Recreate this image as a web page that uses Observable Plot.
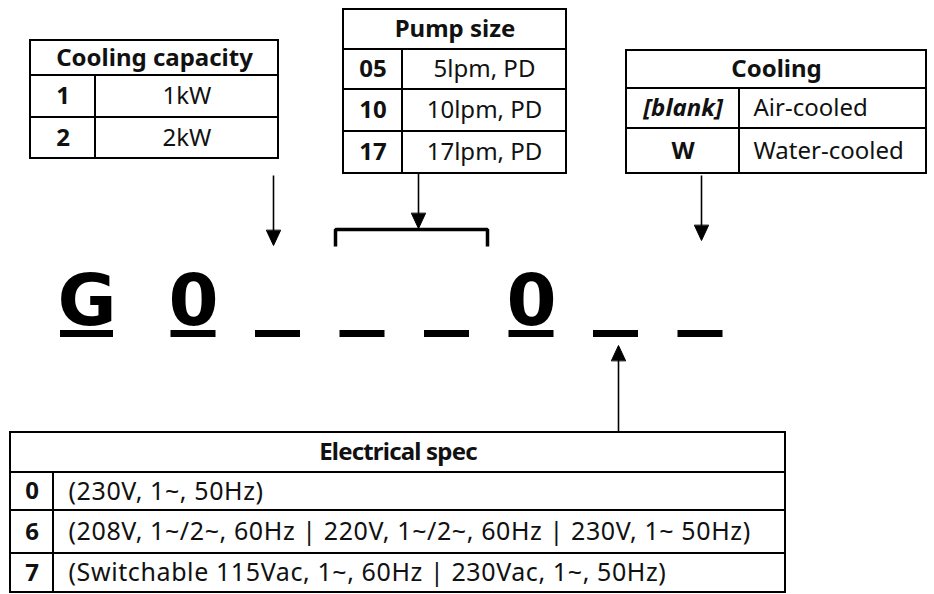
<!DOCTYPE html>
<html><head><meta charset="utf-8">
<script src="https://cdn.jsdelivr.net/npm/d3@7"></script>
<script src="https://cdn.jsdelivr.net/npm/@observablehq/plot@0.6"></script>
<style>
body{margin:0;background:#fff}
#chart svg{display:block}
.elec-label text{letter-spacing:0.6px}
.elec-title text{letter-spacing:-0.8px}
</style>
</head><body><div id="chart"></div>
<script>
// ---------- DATA ----------
const codeChars = ["G", "0", "_", "_", "_", "0", "_", "_"];

const capacityTitle = "Cooling capacity";
const capacityCodes = ["1", "2"];
const capacityLabels = ["1kW", "2kW"];

const pumpTitle = "Pump size";
const pumpCodes = ["05", "10", "17"];
const pumpLabels = ["5lpm, PD", "10lpm, PD", "17lpm, PD"];

const coolingTitle = "Cooling";
const coolingCodes = ["[blank]", "W"];
const coolingLabels = ["Air-cooled", "Water-cooled"];

const electricalTitle = "Electrical spec";
const electricalCodes = ["0", "6", "7"];
const electricalLabels = [
  "(230V, 1~, 50Hz)",
  "(208V, 1~/2~, 60Hz | 220V, 1~/2~, 60Hz | 230V, 1~ 50Hz)",
  "(Switchable 115Vac, 1~, 60Hz | 230Vac, 1~, 50Hz)"
];

// ---------- LAYOUT ----------
const W = 934, H = 594;
const FONT = "Noto Sans";
const FS = 24;

const tableLayouts = [
  {id: "cap", title: capacityTitle, codes: capacityCodes, labels: capacityLabels, x0: 30, x1: 278, div: 95, ys: [40, 75, 117, 158], align: "middle"},
  {id: "pump", title: pumpTitle, codes: pumpCodes, labels: pumpLabels, x0: 343, x1: 566, div: 402, ys: [9, 49, 89, 131, 173], align: "middle"},
  {id: "cool", title: coolingTitle, codes: coolingCodes, labels: coolingLabels, x0: 626, x1: 926, div: 739, ys: [50, 88, 128, 173], align: "start", pad: 14, italicCode: "[blank]"},
  {id: "elec", title: electricalTitle, codes: electricalCodes, labels: electricalLabels, x0: 10, x1: 785, div: 53, ys: [432, 472, 510, 553, 592], align: "start", pad: 15}
];

const cells = [], titles = [], elecTitle = [], boldCenter = [], normCenter = [], normStart = [], elecLabels = [], boldItalic = [];
for (const t of tableLayouts) {
  cells.push({x1: t.x0, x2: t.x1, y1: t.ys[0], y2: t.ys[1]});
  (t.id === "elec" ? elecTitle : titles).push({x: (t.x0 + t.x1) / 2, y: (t.ys[0] + t.ys[1]) / 2, text: t.title});
  t.codes.forEach((c, i) => {
    const y1 = t.ys[i + 1], y2 = t.ys[i + 2], ym = (y1 + y2) / 2;
    cells.push({x1: t.x0, x2: t.div, y1, y2});
    cells.push({x1: t.div, x2: t.x1, y1, y2});
    const codeT = {x: (t.x0 + t.div) / 2, y: ym, text: c};
    (c === t.italicCode ? boldItalic : boldCenter).push(codeT);
    const lab = t.labels[i];
    if (t.align === "middle") normCenter.push({x: (t.div + t.x1) / 2, y: ym, text: lab});
    else if (t.id === "elec") elecLabels.push({x: t.div + t.pad, y: ym, text: lab});
    else normStart.push({x: t.div + t.pad, y: ym, text: lab});
  });
}

// code characters
const slotX = codeChars.map((c, i) => i === 0 ? 86.5 : 193 + (i - 1) * 84.5);
const slotW = codeChars.map((c, i) => i === 0 ? 53 : 45);
const underscores = codeChars.map((c, i) => ({x1: slotX[i] - slotW[i] / 2, x2: slotX[i] + slotW[i] / 2, y1: 330, y2: 337}));
const glyphs = codeChars.map((c, i) => ({x: slotX[i], y: 324, text: c})).filter(d => d.text !== "_");

// arrows: shaft from (x,y1) to tip (x,tip)
const arrows = [
  {x: 273, y1: 175, tip: 245},
  {x: 418, y1: 173, tip: 228},
  {x: 701, y1: 175, tip: 240},
  {x: 618, y1: 432, tip: 345}
];
const shafts = arrows.map(a => ({x1: a.x, x2: a.x, y1: a.y1, y2: a.tip + (a.tip > a.y1 ? -8 : 8)}));
const heads = [];
arrows.forEach((a, k) => {
  const dir = a.tip > a.y1 ? 1 : -1, L = 15, hw = 7;
  heads.push({k, x: a.x - hw, y: a.tip - dir * L});
  heads.push({k, x: a.x, y: a.tip});
  heads.push({k, x: a.x + hw, y: a.tip - dir * L});
});
const bracket = [
  {x: 335, y: 246}, {x: 335, y: 229}, {x: 487, y: 229}, {x: 487, y: 246}
];

const textBase = {x: "x", y: "y", text: "text", fontSize: FS, fontFamily: FONT, fill: "#111"};

const chart = Plot.plot({
  width: W, height: H, margin: 0,
  style: {background: "white", fontFamily: FONT},
  x: {domain: [0, W], range: [0, W], axis: null},
  y: {domain: [0, H], range: [0, H], axis: null},
  marks: [
    Plot.rect(cells, {x1: "x1", x2: "x2", y1: "y1", y2: "y2", fill: "white", stroke: "black", strokeWidth: 2}),
    Plot.text(titles, {...textBase, fontWeight: "bold", textAnchor: "middle"}),
    Plot.text(elecTitle, {...textBase, fontWeight: "bold", textAnchor: "middle", className: "elec-title"}),
    Plot.text(boldCenter, {...textBase, fontWeight: "bold", textAnchor: "middle"}),
    Plot.text(boldItalic, {...textBase, fontWeight: "bold", fontStyle: "italic", textAnchor: "middle"}),
    Plot.text(normCenter, {...textBase, textAnchor: "middle"}),
    Plot.text(normStart, {...textBase, textAnchor: "start"}),
    Plot.text(elecLabels, {...textBase, fontSize: 25, textAnchor: "start", className: "elec-label"}),
    Plot.rect(underscores, {x1: "x1", x2: "x2", y1: "y1", y2: "y2", fill: "black"}),
    Plot.text(glyphs, {x: "x", y: "y", text: "text", fontSize: 72, fontWeight: "bold", fontFamily: "DejaVu Sans", lineAnchor: "bottom", textAnchor: "middle", fill: "black"}),
    Plot.link(shafts, {x1: "x1", x2: "x2", y1: "y1", y2: "y2", stroke: "black", strokeWidth: 1.6}),
    Plot.line(heads, {x: "x", y: "y", z: "k", fill: "black", stroke: "black", strokeWidth: 1, curve: "linear-closed"}),
    Plot.line(bracket, {x: "x", y: "y", stroke: "black", strokeWidth: 3.5, strokeLinejoin: "miter", strokeLinecap: "butt"})
  ]
});
document.getElementById("chart").append(chart);
</script>
</body></html>
